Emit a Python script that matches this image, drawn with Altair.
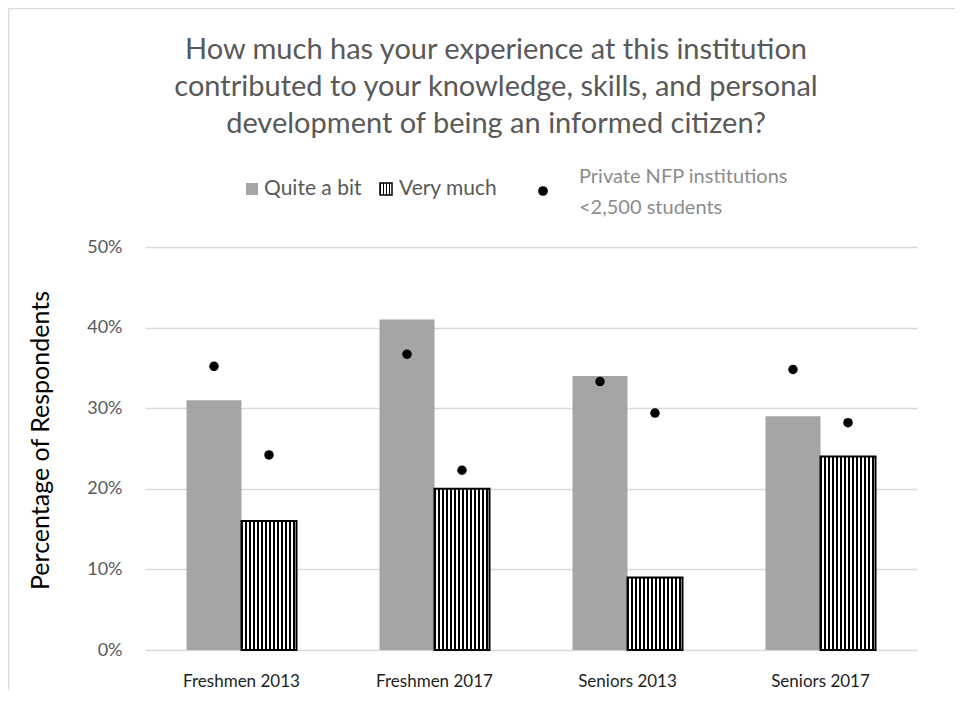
import altair as alt
import pandas as pd

categories = ["Freshmen 2013", "Freshmen 2017", "Seniors 2013", "Seniors 2017"]
series = ["Quite a bit", "Very much"]
quite_a_bit = [0.31, 0.41, 0.34, 0.29]
very_much = [0.16, 0.20, 0.09, 0.24]
nfp_quite_a_bit = [0.352, 0.367, 0.333, 0.348]
nfp_very_much = [0.242, 0.223, 0.294, 0.282]
y_ticks = [0, 0.1, 0.2, 0.3, 0.4, 0.5]
title_lines = [
    "How much has your experience at this institution",
    "contributed to your knowledge, skills, and personal",
    "development of being an informed citizen?",
]
nfp_label = ["Private NFP institutions", "<2,500 students"]

rows = []
for i, c in enumerate(categories):
    rows.append({"cat": c, "series": series[0], "value": quite_a_bit[i], "nfp": nfp_quite_a_bit[i]})
    rows.append({"cat": c, "series": series[1], "value": very_much[i], "nfp": nfp_very_much[i]})
df = pd.DataFrame(rows)

FONT = "Lato"
GRAY = "#a5a5a5"


def stripes(n, black_frac=0.5):
    stops = []
    for i in range(n):
        a = i / n
        b = (i + black_frac) / n
        c = (i + 1) / n
        stops += [
            alt.GradientStop(offset=a, color="black"),
            alt.GradientStop(offset=b, color="black"),
            alt.GradientStop(offset=b, color="white"),
            alt.GradientStop(offset=c, color="white"),
        ]
    return alt.LinearGradient(gradient="linear", stops=stops, x1=0, x2=1, y1=0, y2=0)


x_enc = alt.X(
    "cat:N",
    sort=categories,
    scale=alt.Scale(paddingInner=0.43, paddingOuter=0.215),
    axis=alt.Axis(
        title=None,
        labelAngle=0,
        labelFontSize=17,
        labelColor="#1e1e1e",
        labelPadding=23,
        ticks=False,
        domain=False,
        labelFont=FONT,
    ),
)
xoff = alt.XOffset("series:N", sort=series, scale=alt.Scale(domain=series, paddingInner=0, paddingOuter=0))
y_axis = alt.Axis(
    values=y_ticks,
    format=".0%",
    title="Percentage of Respondents",
    titleFontSize=25,
    titleFontWeight="normal",
    titleColor="#000000",
    titleFont=FONT,
    titleX=-105,
    titleY=193,
    titleAngle=270,
    titleBaseline="middle",
    titleAlign="center",
    labelFontSize=18,
    labelColor="#595959",
    labelFont=FONT,
    labelPadding=23,
    ticks=False,
    domain=False,
    grid=True,
    gridColor="#d9d9d9",
    gridWidth=1.3,
)
y_scale = alt.Scale(domain=[0, 0.5], nice=False)

base = alt.Chart(df)

qb_bars = base.transform_filter(alt.datum.series == series[0]).mark_bar(fill=GRAY).encode(
    x=x_enc, xOffset=xoff, y=alt.Y("value:Q", scale=y_scale, axis=y_axis)
)
vm_bars = base.transform_filter(alt.datum.series == series[1]).mark_bar(
    fill=stripes(14, 0.5), stroke="black", strokeWidth=2
).encode(x=x_enc, xOffset=xoff, y=alt.Y("value:Q", scale=y_scale, axis=y_axis))
dots = base.mark_point(filled=True, shape="circle", size=90, color="black", opacity=1).encode(
    x=x_enc, xOffset=xoff, y=alt.Y("nfp:Q", scale=y_scale, axis=y_axis)
)

one = pd.DataFrame({"k": [0]})
leg_qb = alt.Chart(one).mark_square(size=144, color=GRAY, opacity=1).encode(
    x=alt.value(107), y=alt.value(-58)
)
leg_qb_t = alt.Chart(one).mark_text(
    text=series[0], align="left", baseline="middle", fontSize=21, font=FONT, color="#595959"
).encode(x=alt.value(119), y=alt.value(-58))
leg_vm = alt.Chart(one).mark_square(
    size=144, filled=True, fill=stripes(4, 0.5), stroke="black", strokeWidth=1.5, opacity=1
).encode(x=alt.value(241), y=alt.value(-58))
leg_vm_t = alt.Chart(one).mark_text(
    text=series[1], align="left", baseline="middle", fontSize=21, font=FONT, color="#595959"
).encode(x=alt.value(254), y=alt.value(-58))
leg_dot = alt.Chart(one).mark_point(filled=True, shape="circle", size=95, color="black", opacity=1).encode(
    x=alt.value(398), y=alt.value(-56)
)
leg_dot_t = alt.Chart(one).mark_text(
    text=nfp_label, align="left", baseline="middle", fontSize=20, font=FONT, color="#8c8c8c", lineHeight=31
).encode(x=alt.value(434), y=alt.value(-70))

# light frame around the chart area (top and left edges)
frame_top = alt.Chart(one).mark_rule(color="#d9d9d9", strokeWidth=1.5).encode(
    x=alt.value(-136.5), x2=alt.value(820), y=alt.value(-238.5)
)
frame_left = alt.Chart(one).mark_rule(color="#d9d9d9", strokeWidth=1.5).encode(
    x=alt.value(-136.5), y=alt.value(-238.5), y2=alt.value(460)
)

chart = (
    alt.layer(
        frame_top, frame_left,
        qb_bars, vm_bars, dots, leg_qb, leg_qb_t, leg_vm, leg_vm_t, leg_dot, leg_dot_t,
    )
    .properties(
        width=772,
        height=403,
        title=alt.TitleParams(
            text=title_lines,
            fontSize=29,
            font=FONT,
            color="#595959",
            fontWeight="normal",
            lineHeight=37,
            anchor="middle",
            frame="group",
            dx=-35,
            offset=-131,
        ),
        autosize=alt.AutoSizeParams(type="none"),
        padding={"left": 137, "top": 239, "right": 38, "bottom": 40},
    )
    .configure(font=FONT, view=alt.ViewConfig(strokeWidth=0))
)

chart.save("out.html", embed_options={"renderer": "svg", "actions": False})
